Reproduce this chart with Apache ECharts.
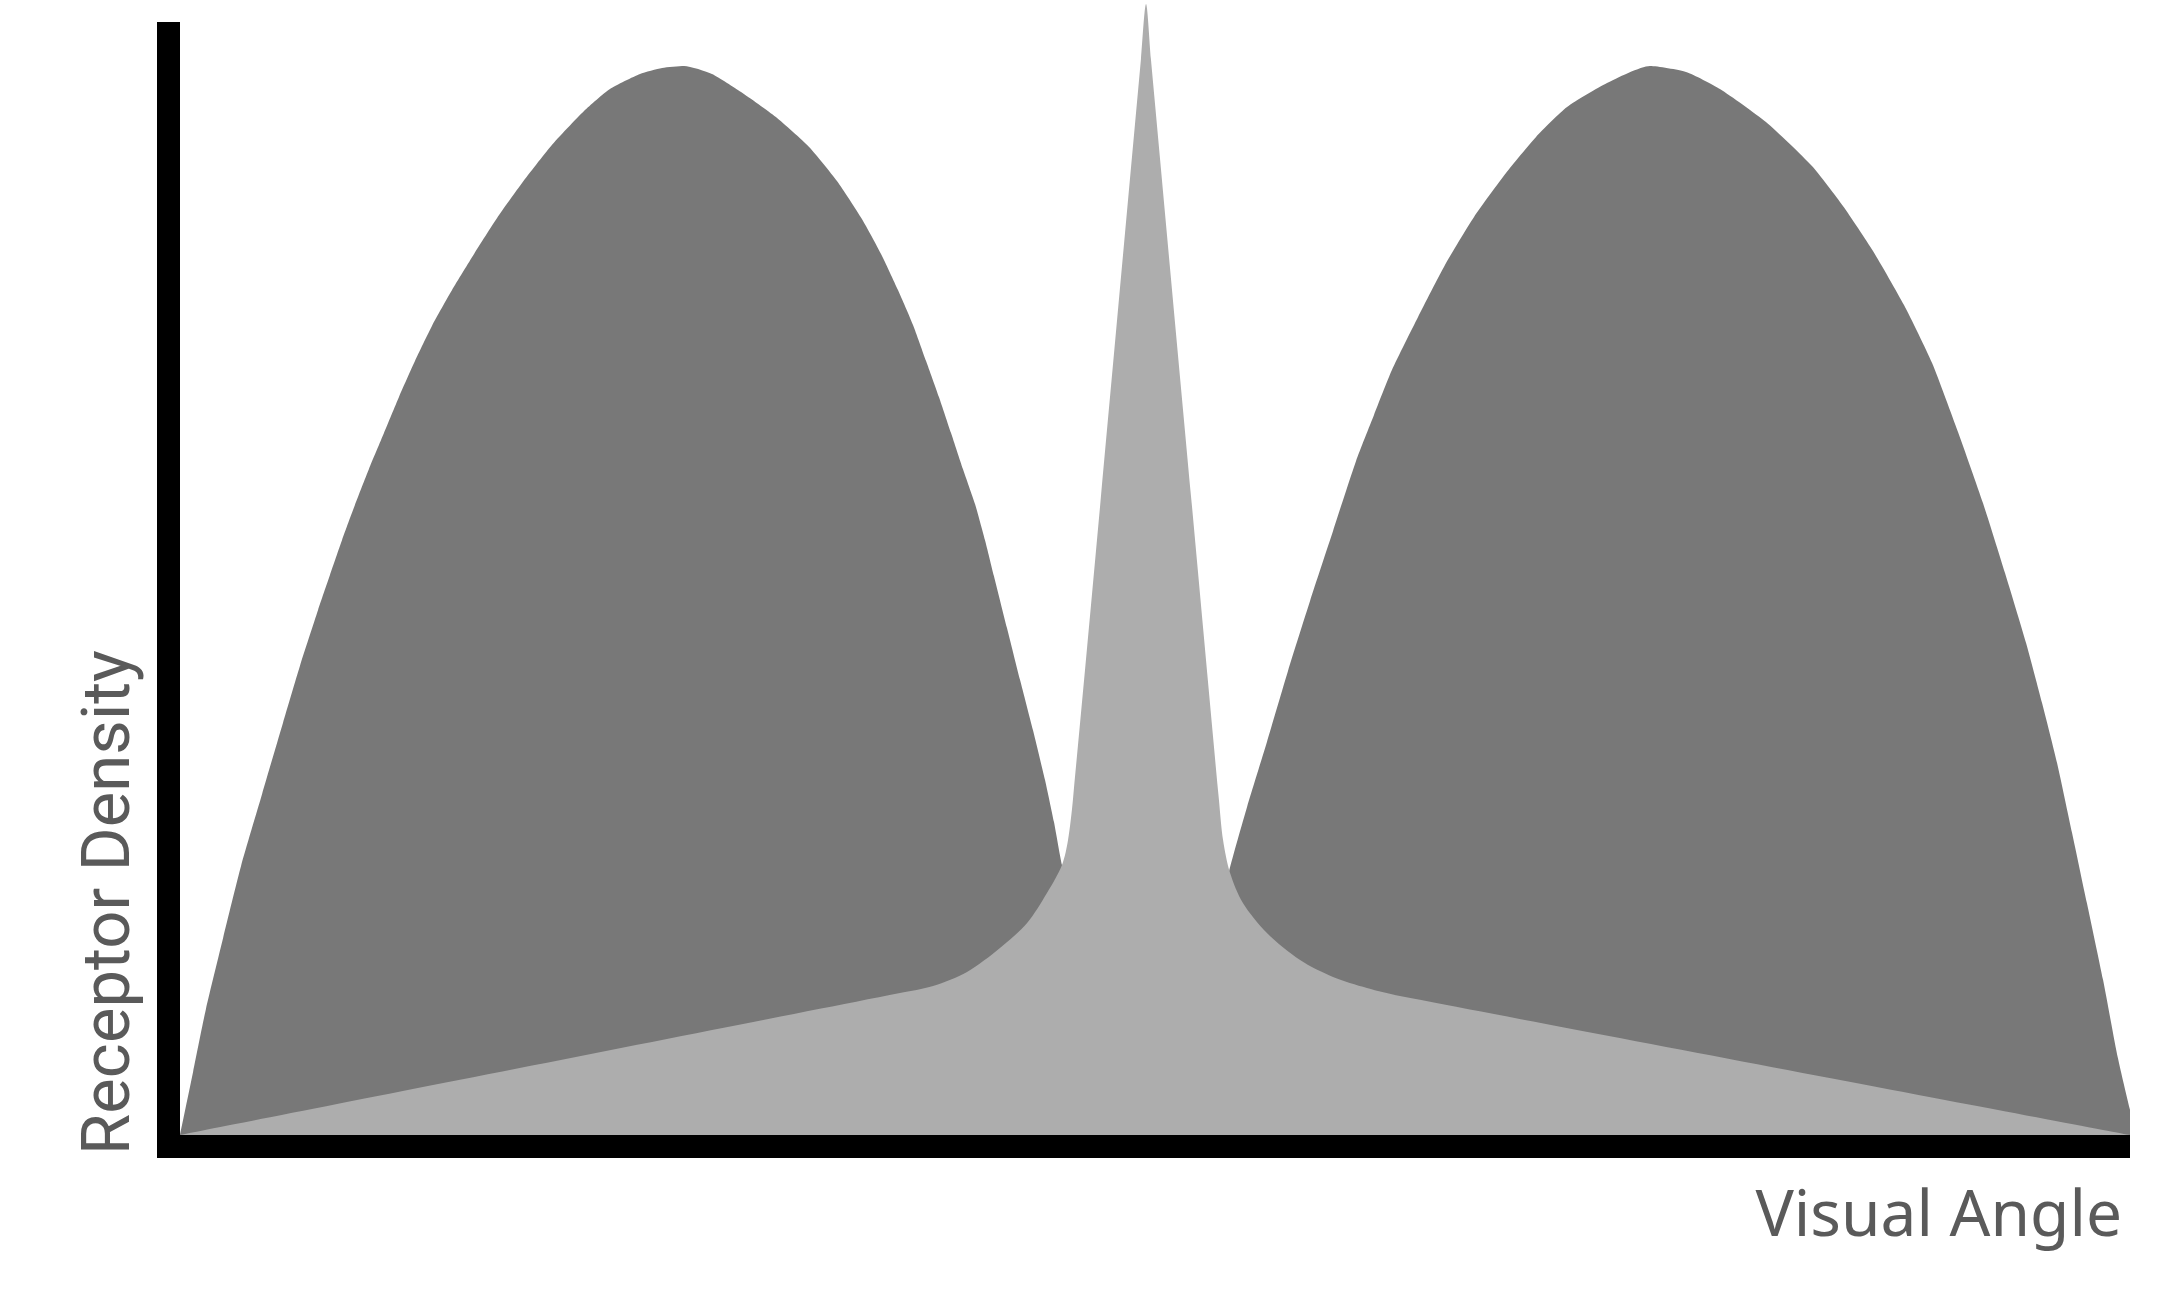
<!DOCTYPE html>
<html>
<head>
<meta charset="utf-8">
<title>Receptor Density</title>
<script src="https://cdn.jsdelivr.net/npm/echarts@6/dist/echarts.min.js"></script>
<style>
  html, body { margin: 0; padding: 0; background: #fff; }
  #chart { width: 2164px; height: 1302px; }
</style>
</head>
<body>
<div id="chart"></div>
<script>
// visual angle (0..100 across the axis) vs receptor density (0..100)
// rods: two humps, dipping to zero at the fovea (hidden under the cones)
const rodDensity = [
  [0, 0], [0.67, 5.66], [1.33, 11.32], [2.21, 17.7], [3.13, 24.17],
  [4.21, 30.64], [5.28, 37.02], [6.15, 42.14], [7.08, 47.17], [7.69, 50.31],
  [8.31, 53.46], [8.97, 56.6], [9.69, 59.84], [10.46, 63.07], [11.23, 66.31],
  [12.05, 69.54], [12.92, 72.69], [13.95, 75.92], [15.08, 79.16], [16.26, 82.39],
  [17.54, 85.53], [19.03, 88.86], [20.72, 92.0], [22.05, 93.98], [23.59, 95.33],
  [24.72, 95.87], [25.85, 96.05], [27.28, 95.33], [28.77, 93.71], [30.56, 91.46],
  [32.26, 88.77], [33.69, 85.71], [34.97, 82.3], [35.95, 79.16], [36.82, 75.92],
  [37.59, 72.78], [38.26, 69.54], [38.92, 66.31], [39.54, 63.07], [40.15, 59.84],
  [40.77, 56.69], [41.28, 53.46], [41.74, 50.22], [42.41, 45.55], [43.08, 40.88],
  [43.74, 36.39], [44.36, 31.9], [44.82, 28.12], [45.23, 24.26],
  [46.67, 13.93], [49.54, 8.54], [52.56, 13.93],
  [53.79, 23.63], [54.72, 29.47], [55.74, 35.31], [56.82, 41.69], [57.95, 47.98],
  [59.13, 54.27], [60.31, 60.56], [61.23, 64.69], [62.15, 68.73], [63.49, 73.5],
  [64.87, 78.17], [66.36, 82.48], [68.0, 86.43], [69.54, 89.67], [71.13, 92.36],
  [73.18, 94.52], [75.38, 96.05], [77.23, 95.51], [78.97, 93.98], [81.33, 91.01],
  [83.69, 87.06], [85.28, 83.47], [86.82, 79.43], [88.41, 74.57], [89.85, 69.36],
  [91.18, 63.16], [92.46, 56.78], [93.59, 50.49], [94.67, 44.2], [95.49, 38.81],
  [96.26, 33.42], [97.03, 27.13], [97.79, 20.84], [98.62, 13.93], [99.38, 6.92],
  [100.31, 0]
];

// cones: low plateau with a sharp foveal peak
const coneDensity = [
  [0, 0], [36.92, 12.76], [38.62, 13.39], [40.36, 14.65], [42.05, 16.8],
  [43.44, 19.05], [44.46, 21.74], [45.23, 24.26], [45.54, 26.5], [45.79, 30.1],
  [47.18, 56.42], [49.28, 96.68], [49.54, 101.62], [49.79, 96.68], [51.9, 56.42],
  [53.28, 30.1], [53.49, 26.5], [53.85, 23.54], [54.51, 20.84], [55.74, 18.15],
  [57.44, 15.72], [59.13, 14.2], [60.87, 13.21], [62.56, 12.49],
  [100, 0]
];

const xAxisName = 'Visual Angle';
const yAxisName = 'Receptor Density';

const chart = echarts.init(document.getElementById('chart'));

const hiddenAxis = {
  type: 'value', min: 0, max: 100,
  axisLine: { show: false }, axisTick: { show: false },
  axisLabel: { show: false }, splitLine: { show: false }
};

// thick black frame, drawn by a second grid's axes
const frameAxis = (cap) => ({
  gridIndex: 1, type: 'value', min: 0, max: 1,
  axisLine: { show: true, onZero: false, lineStyle: { color: '#000', width: 23, cap: cap } },
  axisTick: { show: false }, axisLabel: { show: false }, splitLine: { show: false }
});

chart.setOption({
  animation: false,
  backgroundColor: '#fff',
  grid: [
    { left: 180, right: 34, top: 22, bottom: 167 },
    { left: 168.5, right: 34, top: 33.5, bottom: 155.5 }
  ],
  xAxis: [Object.assign({ gridIndex: 0 }, hiddenAxis), frameAxis('butt')],
  yAxis: [Object.assign({ gridIndex: 0 }, hiddenAxis), frameAxis('square')],
  series: [
    {
      name: 'rods',
      type: 'line',
      data: rodDensity,
      smooth: 0.2,
      clip: false,
      showSymbol: false,
      silent: true,
      lineStyle: { width: 0 },
      areaStyle: { color: '#787878', opacity: 1, origin: 'start' },
      z: 1
    },
    {
      name: 'cones',
      type: 'line',
      data: coneDensity,
      smooth: 0.3,
      clip: false,
      showSymbol: false,
      silent: true,
      lineStyle: { width: 0 },
      areaStyle: { color: '#adadad', opacity: 1, origin: 'start' },
      z: 2
    }
  ],
  graphic: [
    {
      type: 'text',
      x: 2122, y: 1218,
      silent: true,
      style: {
        text: xAxisName,
        fontFamily: 'Noto Sans',
        fontSize: 64,
        fill: '#5a5a5a',
        align: 'right',
        verticalAlign: 'middle'
      }
    },
    {
      type: 'text',
      x: 112, y: 1155,
      rotation: Math.PI / 2,
      silent: true,
      style: {
        text: yAxisName,
        fontFamily: 'Roboto',
        fontSize: 67,
        fill: '#5a5a5a',
        align: 'left',
        verticalAlign: 'middle'
      }
    }
  ]
});
</script>
</body>
</html>
